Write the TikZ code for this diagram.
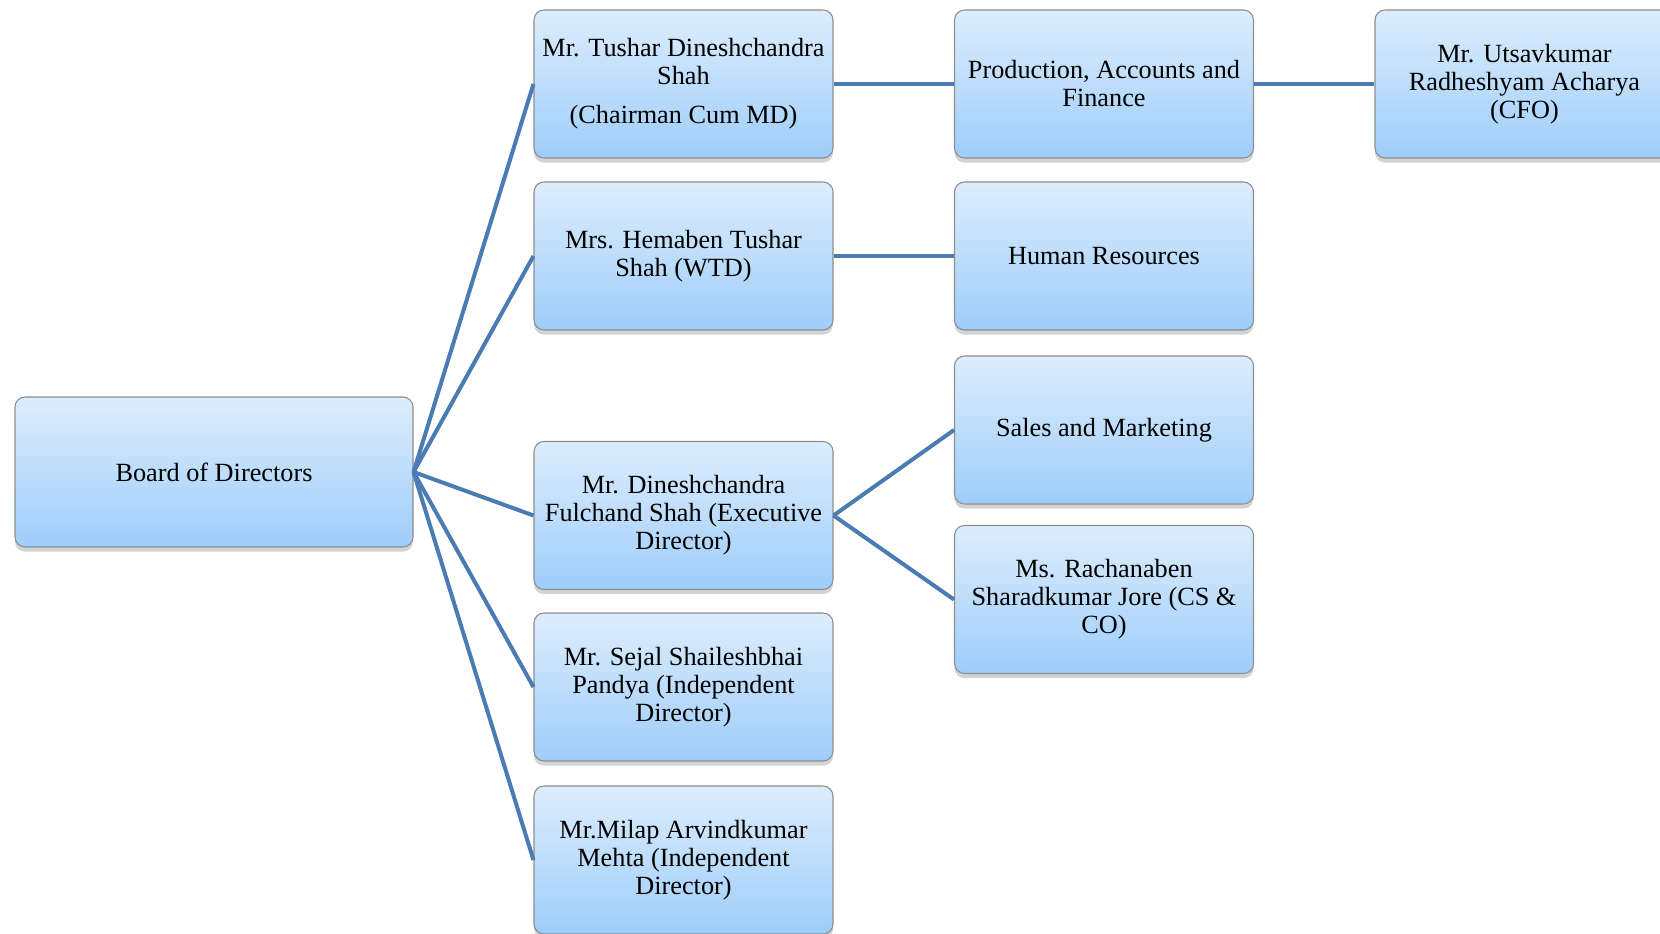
\documentclass[tikz,border=0pt]{standalone}
\usepackage{fontspec}
\setmainfont{Liberation Serif}
\usetikzlibrary{shadows}
\definecolor{linkblue}{HTML}{4A7BB3}
\definecolor{boxtop}{HTML}{DDEDFC}
\definecolor{boxbot}{HTML}{9ECDFA}
\definecolor{boxedge}{HTML}{8E8E8E}
\begin{document}
\begin{tikzpicture}[x=0.75pt,y=-0.75pt,
  orgbox/.style={rectangle, rounded corners=7.5pt, draw=boxedge, line width=0.8pt,
    top color=boxtop, bottom color=boxbot, minimum width=224.25pt, minimum height=111pt,
    align=center, font=\fontsize{19.7}{21}\selectfont, inner sep=0pt,
    drop shadow={shadow xshift=0pt, shadow yshift=-3.5pt, opacity=0.35}},
  link/.style={draw=linkblue, line width=3pt}]
\useasboundingbox (0,0) rectangle (1660,934);

\node[orgbox, minimum width=298.5pt, minimum height=112.5pt] (board) at (214,472) {Board of Directors};

\node[orgbox] (tushar) at (683.5,84) {Mr. Tushar Dineshchandra\\Shah\\[8.5pt](Chairman Cum MD)};
\node[orgbox] (hema) at (683.5,256) {Mrs. Hemaben Tushar\\Shah (WTD)};
\node[orgbox] (dinesh) at (683.5,515.5) {Mr. Dineshchandra\\Fulchand Shah (Executive\\Director)};
\node[orgbox] (sejal) at (683.5,687) {Mr. Sejal Shaileshbhai\\Pandya (Independent\\Director)};
\node[orgbox] (milap) at (683.5,860) {Mr.Milap Arvindkumar\\Mehta (Independent\\Director)};

\node[orgbox] (prod) at (1104,84) {Production, Accounts and\\Finance};
\node[orgbox] (hr) at (1104,256) {Human Resources};
\node[orgbox] (sales) at (1104,430) {Sales and Marketing};
\node[orgbox] (rach) at (1104,599.5) {Ms. Rachanaben\\Sharadkumar Jore (CS \&\\CO)};

\node[orgbox] (cfo) at (1524.5,84) {Mr. Utsavkumar\\Radheshyam Acharya\\(CFO)};

\foreach \t in {tushar,hema,dinesh,sejal,milap}
  \draw[link] (board.east) -- (\t.west);
\draw[link] (tushar.east) -- (prod.west);
\draw[link] (hema.east) -- (hr.west);
\draw[link] (dinesh.east) -- (sales.west);
\draw[link] (dinesh.east) -- (rach.west);
\draw[link] (prod.east) -- (cfo.west);
\end{tikzpicture}
\end{document}
